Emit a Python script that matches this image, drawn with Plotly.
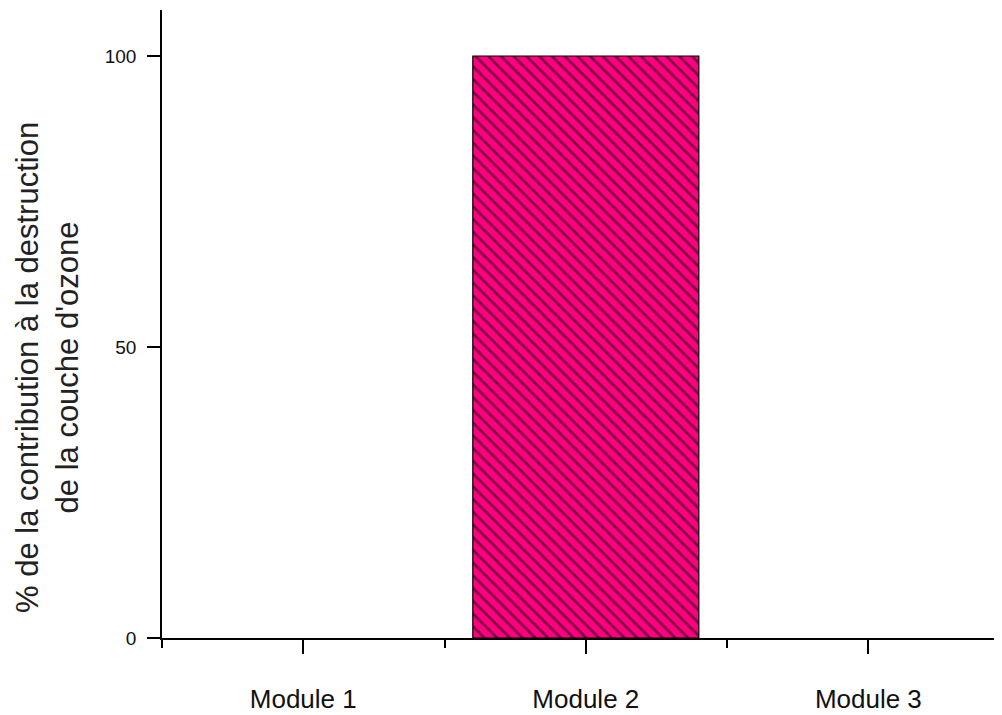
import plotly.graph_objects as go

categories = ["Module 1", "Module 2", "Module 3"]
positions = [1, 2, 3]
values = [0, 100, 0]
y_ticks = [0, 50, 100]

fig = go.Figure()
fig.add_trace(go.Bar(
    x=positions, y=values, width=0.8,
    marker=dict(color="#FF0080",
                line=dict(color="black", width=[1.2 if v > 0 else 0 for v in values]),
                pattern=dict(shape="\\", fgcolor="black", bgcolor="#FF0080",
                             size=9, solidity=0.3)),
    showlegend=False,
))

font = "Arial, Liberation Sans, sans-serif"
fig.update_layout(
    width=1002, height=715,
    margin=dict(l=154, r=8, t=2, b=85),
    plot_bgcolor="white", paper_bgcolor="white",
    font=dict(family=font, color="black"),
    xaxis=dict(range=[0.5, 3.473], tickvals=positions, ticktext=categories,
               showline=True, linecolor="black", linewidth=1.5,
               ticks="outside", ticklen=14, tickwidth=1.5, tickcolor="black",
               tickfont=dict(size=26, family=font, color="#111"),
               ticklabelstandoff=23,
               minor=dict(tickvals=[0.5, 1.5, 2.5], ticks="outside", ticklen=8,
                          tickwidth=1.5, tickcolor="black"),
               showgrid=False, zeroline=False, fixedrange=True),
    yaxis=dict(range=[0, 107.9], tickvals=y_ticks,
               showline=True, linecolor="black", linewidth=1.5,
               ticks="outside", ticklen=13, tickwidth=1.5, tickcolor="black",
               tickfont=dict(size=19, family=font, color="#111"),
               ticklabelstandoff=7,
               showgrid=False, zeroline=False),
    annotations=[dict(
        text="% de la contribution à la destruction<br>de la couche d'ozone",
        xref="paper", yref="paper", x=(47 - 162) / 840, y=(638 - 368) / 628,
        xanchor="center", yanchor="middle", textangle=-90, showarrow=False,
        borderpad=0,
        font=dict(size=31, family=font, color="#222"))],
)

fig.write_html("out.html")
